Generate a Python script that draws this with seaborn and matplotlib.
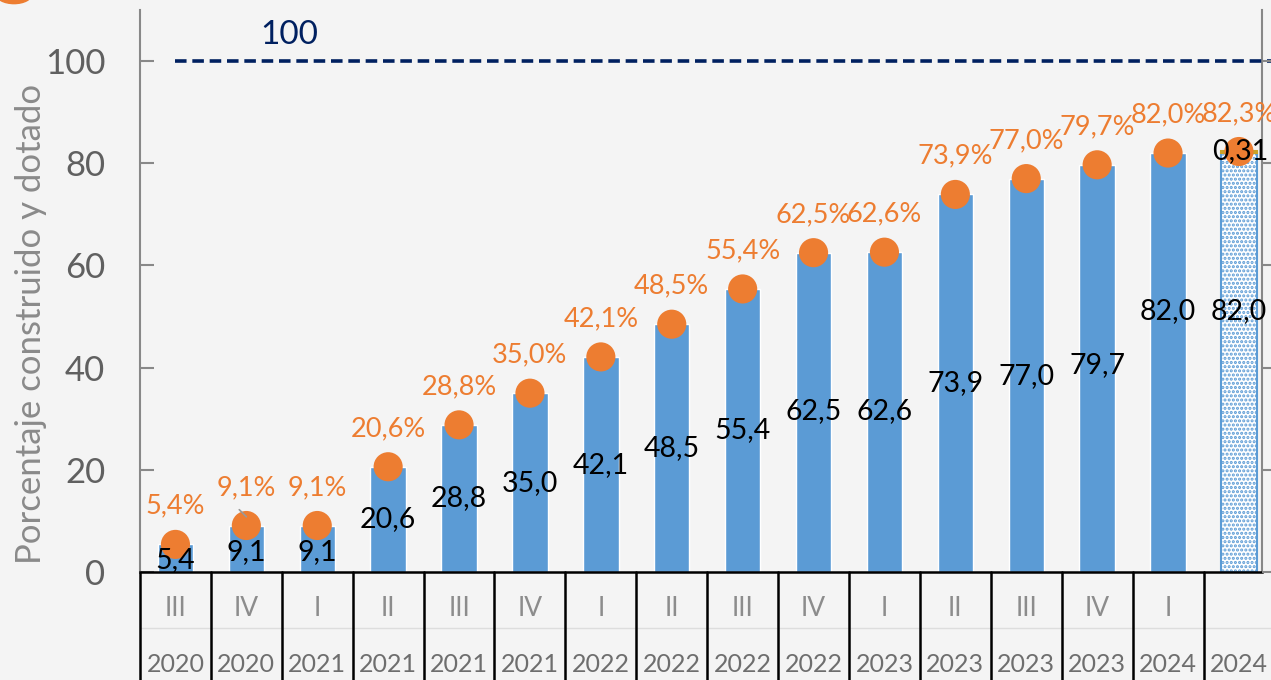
import numpy as np
import pandas as pd
import matplotlib
matplotlib.use("Agg")
import matplotlib.pyplot as plt
import matplotlib.transforms as mtransforms
from matplotlib.patches import Circle
import seaborn as sns

# ---- data ----
quarters = ["III", "IV", "I", "II", "III", "IV", "I", "II", "III", "IV", "I", "II", "III", "IV", "I", ""]
years = ["2020", "2020", "2021", "2021", "2021", "2021", "2022", "2022", "2022", "2022",
         "2023", "2023", "2023", "2023", "2024", "2024"]
bar_values = [5.4, 9.1, 9.1, 20.6, 28.8, 35.0, 42.1, 48.5, 55.4, 62.5, 62.6, 73.9, 77.0, 79.7, 82.0, 82.0]
extra_last = 0.31
pct_values = [5.4, 9.1, 9.1, 20.6, 28.8, 35.0, 42.1, 48.5, 55.4, 62.5, 62.6, 73.9, 77.0, 79.7, 82.0, 82.3]
target = 100
# label anchor heights (data units) for the bar value labels
label_pos = [2.4, 4.0, 4.0, 10.3, 14.4, 17.5, 21.0, 24.2, 27.8, 31.5, 31.5, 37.0, 38.3, 40.5, 51.0, 51.0]

def fmt(v, d=1):
    return f"{v:.{d}f}".replace(".", ",")

sns.set_theme(style="white")
plt.rcParams["font.family"] = ["Lato", "DejaVu Sans"]

W, H = 1271, 680
fig = plt.figure(figsize=(W / 100, H / 100), dpi=100)
fig.patch.set_facecolor("#f4f4f4")

x0, x1 = 140, 1262
y0, y1 = 572, 10
ax = fig.add_axes([x0 / W, 1 - y0 / H, (x1 - x0) / W, (y0 - y1) / H])
ax.set_facecolor("none")

df = pd.DataFrame({"idx": list(range(len(bar_values))), "val": bar_values})
blue = "#5b9bd5"
orange = "#ed7d31"
navy = "#002060"

plt.rcParams["hatch.linewidth"] = 1.5
sns.barplot(data=df, x="idx", y="val", color=blue, saturation=1, width=0.5,
            ax=ax, order=list(range(len(bar_values))))
# last bar: dotted pattern
last = ax.patches[-1]
last.set_facecolor("white")
last.set_edgecolor(blue)
last.set_hatch("....")
last.set_linewidth(1.5)
# thin top segment
ax.bar(len(bar_values) - 1, extra_last, bottom=bar_values[-1], width=0.5,
       color="#c9a227", edgecolor="#c9a227", linewidth=1.5, zorder=3)

# orange dots
sns.scatterplot(x=list(range(len(pct_values))), y=pct_values, ax=ax, color=orange,
                s=440, edgecolor="none", zorder=5, legend=False)

# dashed target line
ax.plot([0, 15.6], [target, target], color=navy, lw=2.6, ls=(0, (3.2, 1.6)),
        zorder=4, clip_on=False)
ax.text(1.6, target + 5.2, str(target), color=navy, fontsize=24, ha="center", va="center")

# labels
for i, (v, p, lp) in enumerate(zip(bar_values, pct_values, label_pos)):
    ax.text(i, lp, fmt(v), ha="center", va="center", fontsize=20.5, color="black", zorder=6)
    ax.annotate(fmt(p) + "%", (i, p), xytext=(0, 27.5), textcoords="offset points",
                ha="center", va="center", fontsize=19.5, color=orange, zorder=6)
ax.text(len(bar_values) - 1 + 0.02, bar_values[-1] + 0.3, fmt(extra_last, 2), ha="center",
        va="center", fontsize=20.5, color="black", zorder=6)
# small leader line
ax.plot([0.9, 1.0], [12.2, 10.8], color="#999999", lw=1.2, zorder=6)

ax.set_xlim(-0.5, -0.5 + (x1 - x0) / 70.9)
ax.set_ylim(0, 110)
ax.set_yticks([0, 20, 40, 60, 80, 100])
ax.set_xticks([])
ax.set_xlabel("")
ax.set_ylabel("Porcentaje construido y dotado", fontsize=25, color="#8a8a8a", va="center")
ax.yaxis.set_label_coords(-(x0 - 31) / (x1 - x0), (y0 - 324) / (y0 - y1))
ax.tick_params(axis="y", labelsize=25, labelcolor="#606060", length=10, width=1.5,
               color="#888888", direction="in", left=True, pad=25)
ax.spines["top"].set_visible(False)
ax.spines["left"].set_color("#888888")
ax.spines["left"].set_linewidth(1.5)
ax.spines["right"].set_color("#888888")
ax.spines["right"].set_linewidth(1.5)
ax.spines["bottom"].set_color("black")
ax.spines["bottom"].set_linewidth(1.8)

# right ticks
ax2 = ax.twinx()
ax2.set_ylim(0, 110)
ax2.set_yticks([0, 20, 40, 60, 80, 100])
ax2.set_yticklabels([])
ax2.tick_params(axis="y", length=10, width=1.5, color="#888888", direction="out", right=True)
for s in ["top", "left", "bottom", "right"]:
    ax2.spines[s].set_visible(False)

# category table below the axis
trans = mtransforms.blended_transform_factory(ax.transData, ax.transAxes)
px = 1.0 / (y0 - y1)
ybot = -(H - y0 + 5) * px
ax.plot([-0.5, 15.6], [-(628 - y0) * px] * 2, transform=trans, color="#dddddd",
        lw=1, clip_on=False)
for k in range(len(bar_values) + 1):
    ax.plot([k - 0.5, k - 0.5], [0, ybot], transform=trans, color="black", lw=1.8, clip_on=False)
for i, (q, yv) in enumerate(zip(quarters, years)):
    ax.text(i, -(608 - y0) * px, q, transform=trans, ha="center", va="center",
            fontsize=19, color="#8c8c8c")
    ax.text(i, -(664 - y0) * px, yv, transform=trans, ha="center", va="center",
            fontsize=18, color="#6e6e6e")

# corner logo fragment
fig.patches.append(Circle((14 / W, 1 - (-6) / H), 18 / W, transform=fig.transFigure,
                          color=orange, zorder=10))

fig.savefig("out.png", dpi=100, facecolor=fig.get_facecolor())
